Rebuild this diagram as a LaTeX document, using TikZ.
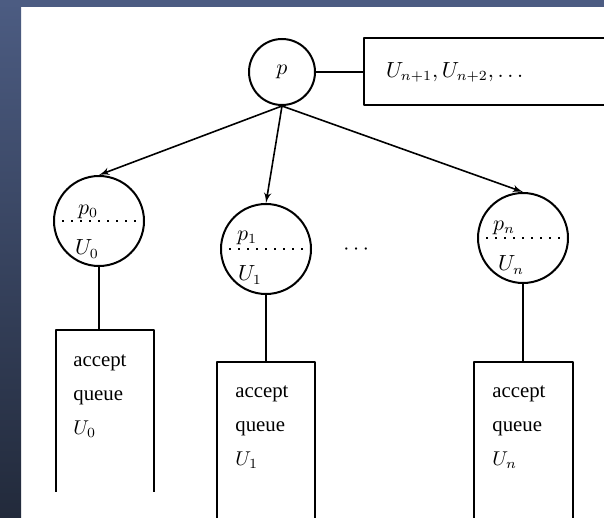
\documentclass[tikz,border=0pt]{standalone}
\usepackage{fontspec}
\setmainfont{Liberation Serif}
\usepackage{amsmath}
\usetikzlibrary{arrows, positioning, calc}
\definecolor{slatetop}{HTML}{4C5C82}
\definecolor{slatebot}{HTML}{222A3B}
\tikzset{
         rootnode/.style={draw, circle, line width=1pt, minimum size=33pt, inner sep=0pt, font=\fontsize{10.6}{12}\selectfont},
         procnode/.style={draw, circle, line width=1pt, minimum size=45pt, inner sep=0pt},
         waitbox/.style={draw, line width=1pt, minimum height=33.5pt, text width=120pt, inner xsep=11pt, align=left, anchor=west, font=\fontsize{10.6}{12}\selectfont},
         qbox/.style={draw=none, minimum height=80.5pt, inner sep=0pt, anchor=north west},
         qline/.style={draw, line width=1pt},
         qtext/.style={align=left, inner sep=0pt, anchor=north west, font=\fontsize{10.4}{17}\selectfont},
         mylabel/.style={inner sep=0pt, font=\fontsize{10.6}{12}\selectfont}
      }

\begin{document}
\begin{tikzpicture}[x=0.5pt, y=-0.5pt, >=latex', line join=round]
                  \tikzstyle{line} = [draw, line width=1pt]
                  \tikzstyle{arrow} = [draw, line width=0.8pt, ->]
                  \useasboundingbox (0,0) rectangle (604,518);
                  \clip (0,0) rectangle (604,518);
                  % background
                  \fill[white] (0,0) rectangle (604,518);
                  \shade[top color=slatetop, bottom color=slatebot] (0,0) rectangle (21,518);
                  \fill[slatetop] (0,0) rectangle (604,7);
                  % root and waiting users
                  \node[rootnode] (p) at (282,72) {$p$};
                  \node[waitbox] (rest) at (363,72) {$U_{n+1}, U_{n+2}, \ldots$};
                  \path [line] (p) -- (rest);
                  % processes
                  \node[procnode] (p0) at (99,221) {};
                  \node[procnode] (p1) at (266,249) {};
                  \node[procnode] (pn) at (523,238) {};
                  \node[mylabel] (dots) at (358,250) {$\cdots$};
                  \path [arrow] (p.south) -- (p0.north);
                  \path [arrow] (p.south) -- (p1.north);
                  \path [arrow] (p.south) -- (pn.north);
                  \draw[line width=0.9pt, dash pattern=on 0.9pt off 3.6pt] (p0.west) -- (p0.east);
                  \draw[line width=0.9pt, dash pattern=on 0.9pt off 3.6pt] (p1.west) -- (p1.east);
                  \draw[line width=0.9pt, dash pattern=on 0.9pt off 3.6pt] (pn.west) -- (pn.east);
                  \node[mylabel] (p0p) at ($(p0)+(-11,-9)$) {$p_0$};
                  \node[mylabel] (p0u) at ($(p0)+(-12,28)$) {$U_0$};
                  \node[mylabel] (p1p) at ($(p1)+(-19,-11)$) {$p_1$};
                  \node[mylabel] (p1u) at ($(p1)+(-16,26)$) {$U_1$};
                  \node[mylabel] (pnp) at ($(pn)+(-19,-10)$) {$p_n$};
                  \node[mylabel] (pnu) at ($(pn)+(-12,27)$) {$U_n$};
                  % accept queues
                  \node[qbox, minimum width=48.5pt] (q0) at (56,330) {};
                  \node[qbox, minimum width=48.5pt] (q1) at (217,362) {};
                  \node[qbox, minimum width=49pt] (qn) at (474,362) {};
                  \path [qline] (q0.south west) |- (q0.north east) -- (q0.south east);
                  \path [qline] (q1.south west) |- (q1.north east) -- (q1.south east);
                  \path [qline] (qn.south west) |- (qn.north east) -- (qn.south east);
                  \path [line] (p0.south) -- (p0.south |- q0.north);
                  \path [line] (p1.south) -- (p1.south |- q1.north);
                  \path [line] (pn.south) -- (pn.south |- qn.north);
                  \node[qtext] (t0) at ($(q0.north west)+(17,24)$) {accept\\queue\\$U_0$};
                  \node[qtext] (t1) at ($(q1.north west)+(18,23)$) {accept\\queue\\$U_1$};
                  \node[qtext] (tn) at ($(qn.north west)+(18,23)$) {accept\\queue\\$U_n$};
               \end{tikzpicture}
\end{document}
